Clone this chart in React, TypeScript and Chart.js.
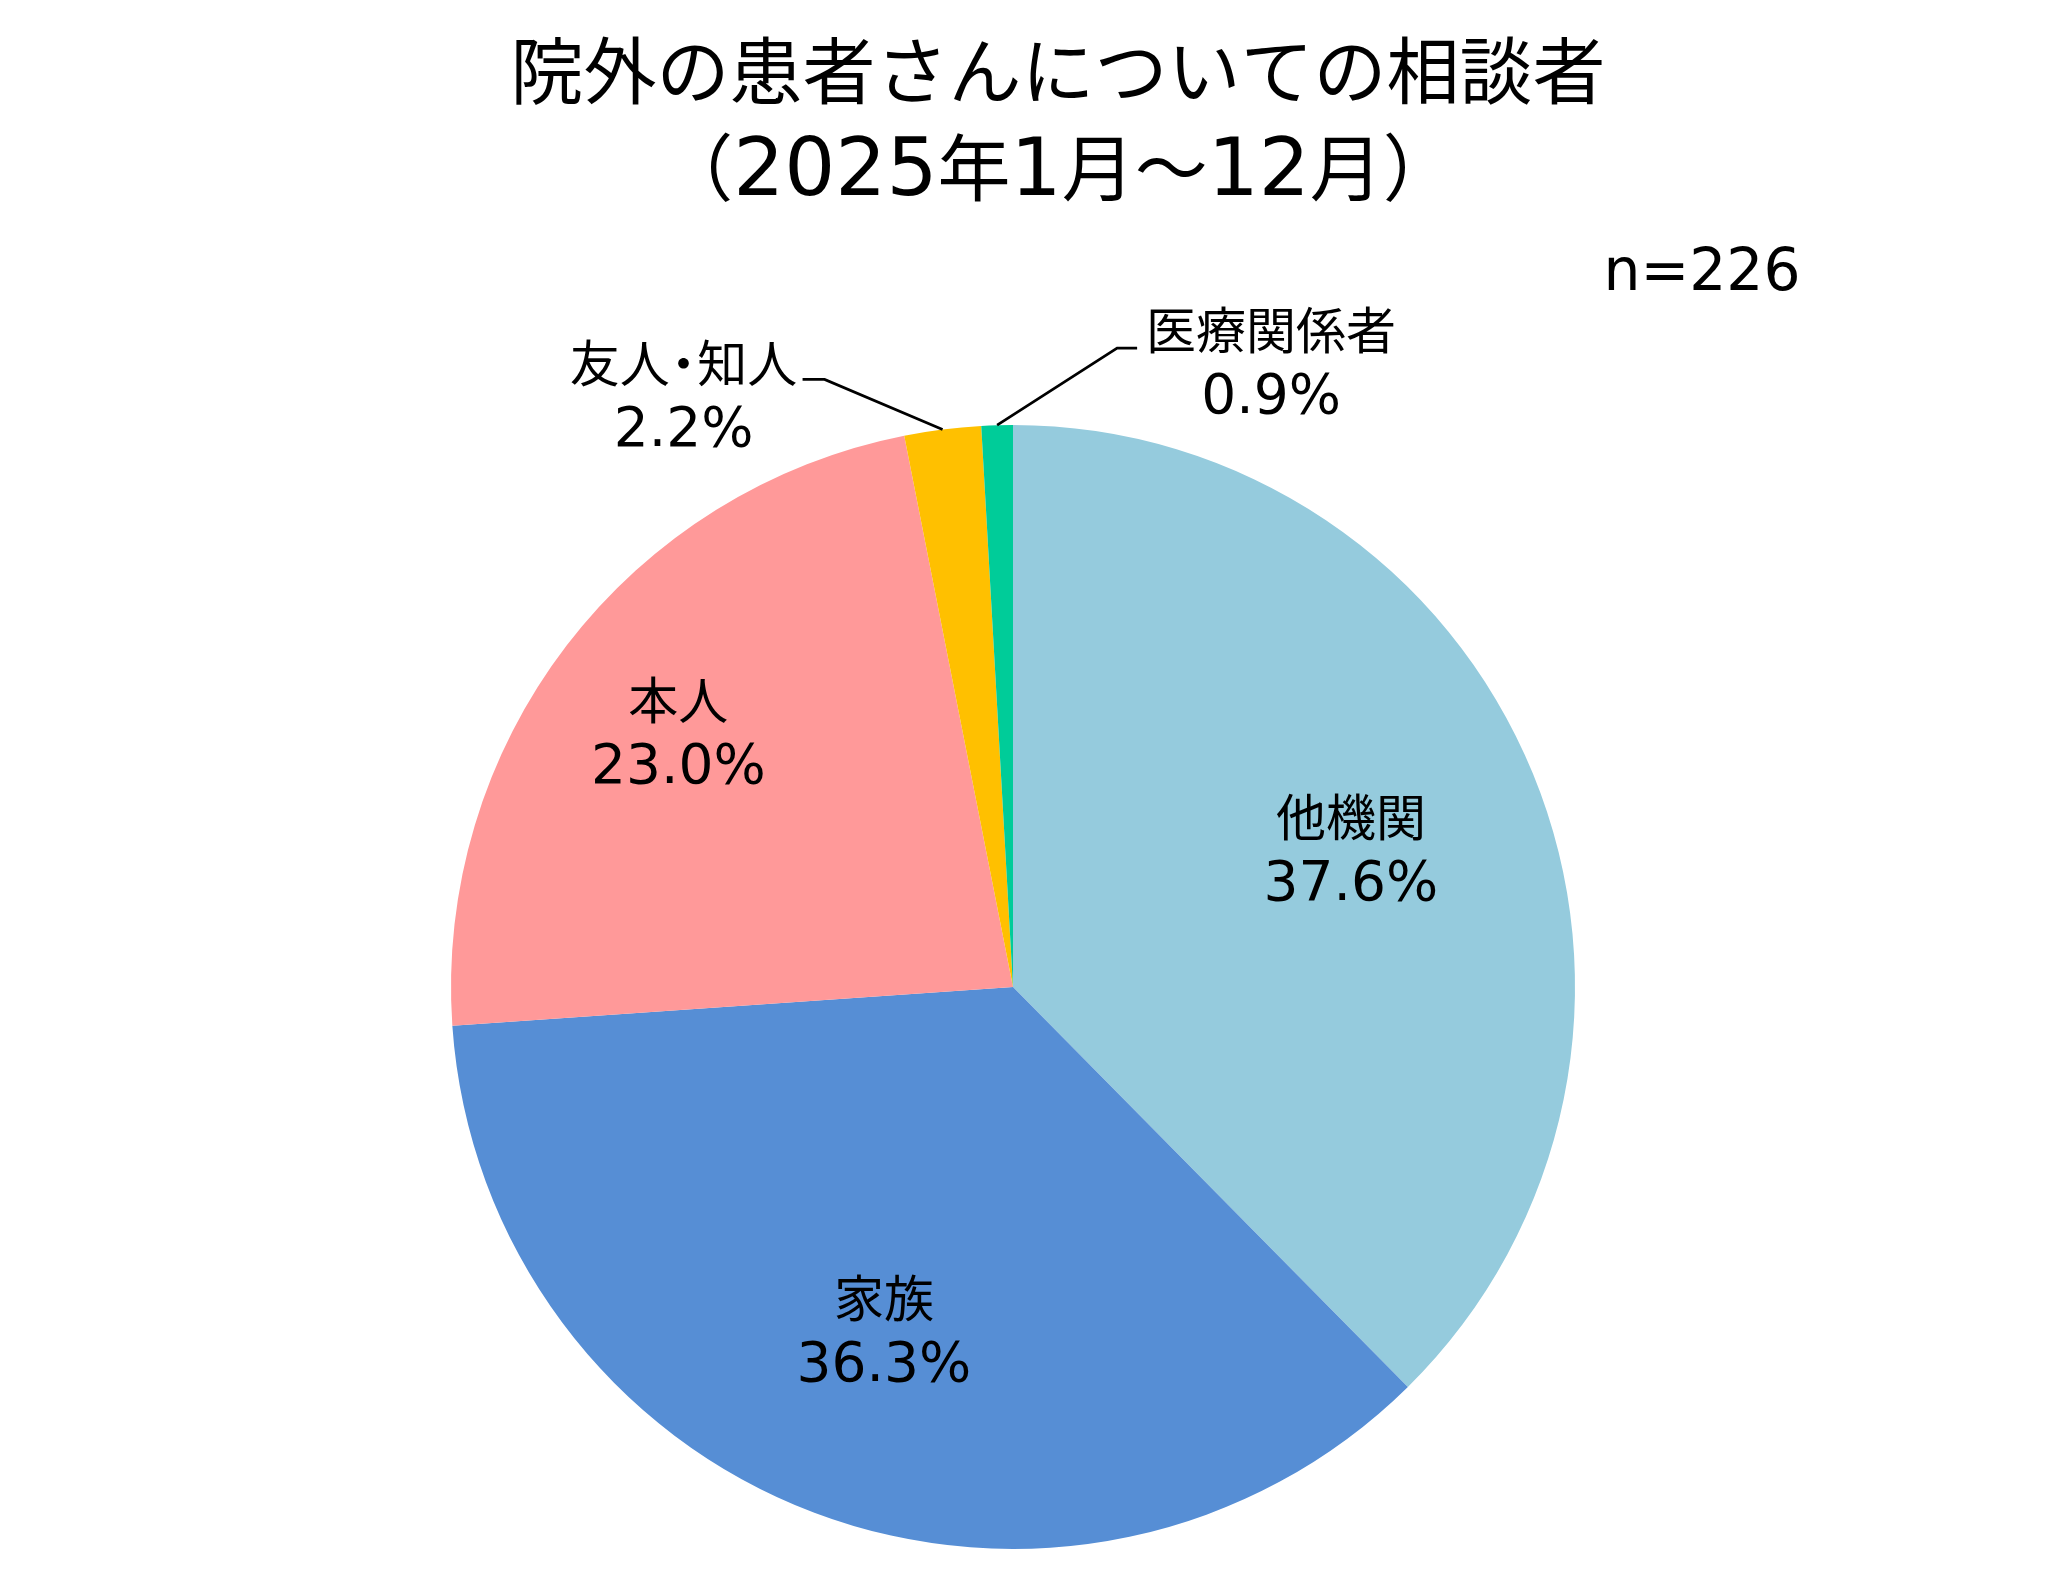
import { useEffect, useRef } from "react";
import { Chart, registerables, type Plugin } from "chart.js";

Chart.register(...registerables);

const categories = ["他機関", "家族", "本人", "友人・知人", "医療関係者"];
const shares = [37.6, 36.3, 23.0, 2.2, 0.9];
const colors = ["#95CBDD", "#568ED5", "#FF9999", "#FFC000", "#00CC99"];
const titleLines = ["院外の患者さんについての相談者", "（2025年1月～12月）"];
const sampleNote = "n=226";

// inside labels sit on the slice's middle angle at a share of the radius;
// outside labels get a leader line: elbow and text offset from the rim point
const labelLayout: ({ inside: number } | { elbow: [number, number]; tail: number; text: [number, number] })[] = [
  { inside: 0.65 },
  { inside: 0.65 },
  { inside: 0.75 },
  { elbow: [-118, -50], tail: -22, text: [-259, -35] },
  { elbow: [120, -77], tail: 20, text: [274, -64] },
];

const CJK = '"Noto Sans CJK JP"';
const LATIN = '"DejaVu Sans"';
const isWide = (ch: string) => /[\u2E80-\u9FFF\u3000-\u30FF\uFF00-\uFFEF]/.test(ch);

// Meiryo-like look: CJK from Noto, Latin from DejaVu a little larger,
// and a narrow middle dot
function drawMixed(ctx: CanvasRenderingContext2D, text: string, cx: number, baseline: number, cjkSize: number) {
  const latinSize = cjkSize * 1.1;
  const runs: { kind: string; s: string }[] = [];
  for (const ch of text) {
    const k = ch === "・" ? "dot" : isWide(ch) ? "wide" : "latin";
    const last = runs[runs.length - 1];
    if (last && last.kind === k && k !== "dot") last.s += ch;
    else runs.push({ kind: k, s: ch });
  }
  const fontOf = (k: string) => (k === "latin" ? `${latinSize}px ${LATIN}` : `${cjkSize}px ${CJK}`);
  const widths = runs.map(r => {
    if (r.kind === "dot") return cjkSize * 0.55;
    ctx.font = fontOf(r.kind);
    return ctx.measureText(r.s).width;
  });
  let x = cx - widths.reduce((a, b) => a + b, 0) / 2;
  ctx.textBaseline = "alphabetic";
  runs.forEach((r, i) => {
    ctx.font = fontOf(r.kind);
    if (r.kind === "dot") {
      ctx.textAlign = "center";
      ctx.fillText(r.s, x + widths[i] / 2, baseline);
    } else {
      ctx.textAlign = "left";
      ctx.fillText(r.s, x, baseline);
    }
    x += widths[i];
  });
}

const textPlugin: Plugin<"pie"> = {
  id: "pieText",
  afterDraw(chart) {
    const ctx = chart.ctx;
    ctx.save();
    ctx.fillStyle = "#000";

    drawMixed(ctx, titleLines[0], 1058, 98, 73);
    drawMixed(ctx, titleLines[1], 1058, 195, 73);
    drawMixed(ctx, sampleNote, 1702, 290, 53);

    const arcs = chart.getDatasetMeta(0).data;
    arcs.forEach((el, i) => {
      const { x, y, startAngle, endAngle, outerRadius } = el.getProps(
        ["x", "y", "startAngle", "endAngle", "outerRadius"], true
      ) as any;
      const mid = (startAngle + endAngle) / 2;
      const layout = labelLayout[i];
      const pct = `${shares[i].toFixed(1)}%`;
      let lx: number, ly: number;
      if ("inside" in layout) {
        lx = x + Math.cos(mid) * outerRadius * layout.inside;
        ly = y + Math.sin(mid) * outerRadius * layout.inside;
      } else {
        const rx = x + Math.cos(mid) * outerRadius;
        const ry = y + Math.sin(mid) * outerRadius;
        const ex = rx + layout.elbow[0];
        const ey = ry + layout.elbow[1];
        ctx.strokeStyle = "#000";
        ctx.lineWidth = 2.7;
        ctx.beginPath();
        ctx.moveTo(rx, ry);
        ctx.lineTo(ex, ey);
        ctx.lineTo(ex + layout.tail, ey);
        ctx.stroke();
        lx = rx + layout.text[0];
        ly = ry + layout.text[1];
      }
      drawMixed(ctx, categories[i], lx, ly - 12, 50);
      drawMixed(ctx, pct, lx, ly + 52, 50);
    });
    ctx.restore();
  },
};

export default function App() {
  const canvasRef = useRef<HTMLCanvasElement>(null);
  const chartRef = useRef<Chart<"pie"> | null>(null);

  useEffect(() => {
    if (!canvasRef.current) return;
    if (chartRef.current) chartRef.current.destroy();

    chartRef.current = new Chart(canvasRef.current, {
      type: "pie",
      data: {
        labels: categories,
        datasets: [{
          data: shares,
          backgroundColor: colors,
          borderWidth: 0,
          hoverOffset: 0,
        }],
      },
      options: {
        responsive: false,
        devicePixelRatio: 1,
        animation: false,
        events: [],
        radius: 562,
        layout: { padding: { left: 451, right: 473, top: 425, bottom: 22 } },
        plugins: {
          legend: { display: false },
          tooltip: { enabled: false },
          title: { display: false },
        },
      },
      plugins: [textPlugin],
    });
    return () => { chartRef.current?.destroy(); chartRef.current = null; };
  }, []);

  return (
    <div style={{ position: "absolute", left: 0, top: 0, width: 2048, height: 1571, background: "#fff" }}>
      <canvas ref={canvasRef} width={2048} height={1571} style={{ display: "block" }} />
    </div>
  );
}
